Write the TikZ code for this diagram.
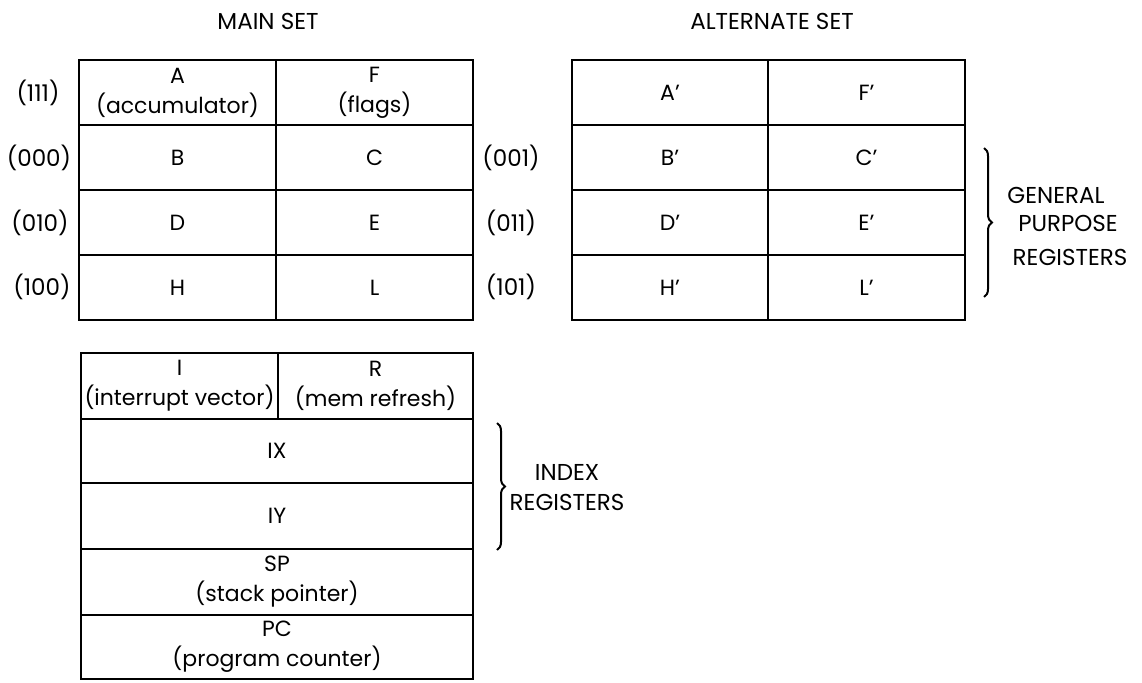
\documentclass[tikz,border=0pt]{standalone}
\usepackage{fontspec}
\setmainfont{Poppins}
\usetikzlibrary{decorations.pathreplacing}
\begin{document}
\begin{tikzpicture}[x=1pt,y=-1pt,
  cell/.style={draw, line width=2.5pt, inner sep=0pt, align=center,
    font=\fontsize{22}{30}\selectfont, minimum height=65pt},
  half/.style={cell, minimum width=197pt},
  full/.style={cell, minimum width=392pt},
  lbl/.style={font=\fontsize{23}{30}\selectfont, inner sep=0pt},
  bracestyle/.style={decorate, decoration={brace, amplitude=8pt}, line width=2pt}
]
\useasboundingbox (0,0) rectangle (1142,682);

% titles
\node[lbl] (tmain) at (268,21) {MAIN SET};
\node[lbl] (talt) at (772,21) {ALTERNATE SET};

% main set
\node[half] (A) at (177.5,92.5) {A\\(accumulator)};
\node[half] (F) at (374.5,92.5) {F\\(flags)};
\node[half] (B) at (177.5,157.5) {B};
\node[half] (C) at (374.5,157.5) {C};
\node[half] (D) at (177.5,222.5) {D};
\node[half] (E) at (374.5,222.5) {E};
\node[half] (H) at (177.5,287.5) {H};
\node[half] (L) at (374.5,287.5) {L};

% alternate set
\node[half, minimum width=196pt] (A2) at (670,92.5) {A'};
\node[half] (F2) at (866.5,92.5) {F'};
\node[half, minimum width=196pt] (B2) at (670,157.5) {B'};
\node[half] (C2) at (866.5,157.5) {C'};
\node[half, minimum width=196pt] (D2) at (670,222.5) {D'};
\node[half] (E2) at (866.5,222.5) {E'};
\node[half, minimum width=196pt] (H2) at (670,287.5) {H'};
\node[half] (L2) at (866.5,287.5) {L'};

% codes
\node[lbl] (c111) at (38,93) {(111)};
\node[lbl] (c000) at (39,158) {(000)};
\node[lbl] (c010) at (40,223) {(010)};
\node[lbl] (c100) at (42,287) {(100)};
\node[lbl] (c001) at (511,158) {(001)};
\node[lbl] (c011) at (511,223) {(011)};
\node[lbl] (c101) at (511,287) {(101)};

% general purpose brace
\coordinate (gpt) at (984,148);
\coordinate (gpb) at (984,297);
\draw[bracestyle] (gpt) -- (gpb);
\node[lbl] (gen) at (1056,195) {GENERAL};
\node[lbl] (pur) at (1068,223) {PURPOSE};
\node[lbl] (reg) at (1070,257) {REGISTERS};

% lower block
\node[cell, minimum width=197pt, minimum height=66pt] (I) at (179.5,386) {I\\(interrupt vector)};
\node[cell, minimum width=195pt, minimum height=66pt] (R) at (375.5,386) {R\\(mem refresh)};
\node[full, minimum height=64pt] (IX) at (277,451) {IX};
\node[full, minimum height=66pt] (IY) at (277,516) {IY};
\node[full, minimum height=66pt] (SP) at (277,582) {SP\\(stack pointer)};
\node[full, minimum height=64pt] (PC) at (277,647) {PC\\(program counter)};

% index brace
\coordinate (ixt) at (497,423);
\coordinate (ixb) at (497,550);
\draw[bracestyle] (ixt) -- (ixb);
\node[lbl] (idx) at (567,472) {INDEX};
\node[lbl] (idxr) at (567,502) {REGISTERS};
\end{tikzpicture}
\end{document}
